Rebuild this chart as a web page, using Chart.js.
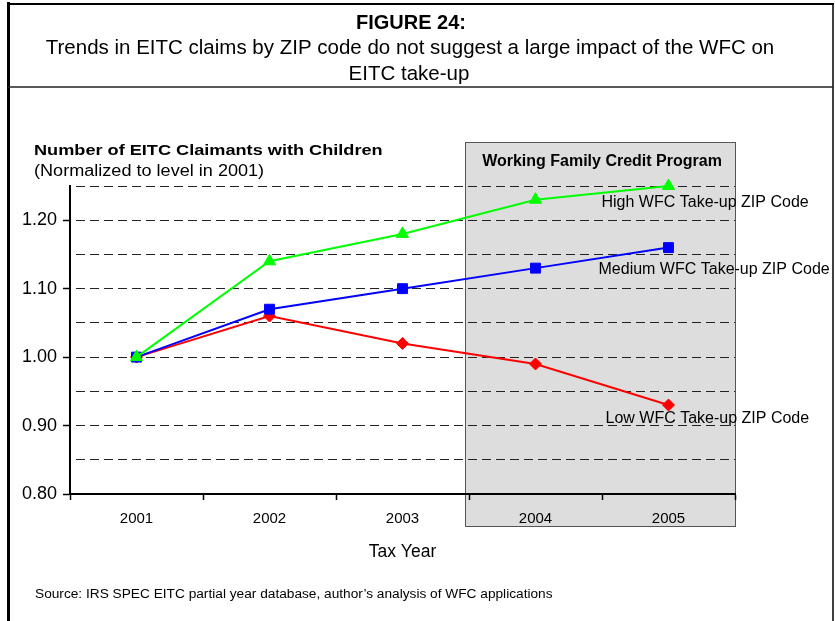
<!DOCTYPE html>
<html>
<head>
<meta charset="utf-8">
<style>
  html, body { margin: 0; padding: 0; background: #fff; }
  canvas { display: block; }
</style>
</head>
<body>
<canvas id="eitcChart" width="835" height="621"></canvas>
<script src="https://cdn.jsdelivr.net/npm/chart.js"></script>
<script>
// values (normalized to 2001 = 1.00)
const years = ['2001', '2002', '2003', '2004', '2005'];
const highTakeup = [1.00, 1.14, 1.18, 1.23, 1.25];
const mediumTakeup = [1.00, 1.07, 1.10, 1.13, 1.16];
const lowTakeup = [1.00, 1.06, 1.02, 0.99, 0.93];
const seriesNames = ['High WFC Take-up ZIP Code', 'Medium WFC Take-up ZIP Code', 'Low WFC Take-up ZIP Code'];
const yTickLabels = ['0.80', '0.90', '1.00', '1.10', '1.20'];
const programYears = ['2004', '2005'];

const FONT = '"Liberation Sans", Arial, Helvetica, sans-serif';
Chart.defaults.font.family = FONT;
Chart.defaults.color = '#000';

// where each end label sits relative to the last point of its line
const labelOffsets = [[-67, 21], [-70, 26.5], [-63, 18]];

function drawText(ctx, text, x, y, font, align, sx) {
  ctx.save();
  ctx.font = font;
  ctx.fillStyle = '#000';
  ctx.textAlign = align || 'left';
  ctx.textBaseline = 'alphabetic';
  ctx.translate(x, y);
  ctx.scale(sx || 1, 1);
  ctx.fillText(text, 0, 0);
  ctx.restore();
}

function line(ctx, x1, y1, x2, y2, w, color) {
  ctx.save();
  ctx.lineWidth = w;
  ctx.strokeStyle = color;
  ctx.beginPath();
  ctx.moveTo(x1, y1);
  ctx.lineTo(x2, y2);
  ctx.stroke();
  ctx.restore();
}

const figurePlugin = {
  id: 'figure',
  beforeDraw(chart) {
    const ctx = chart.ctx;
    const area = chart.chartArea;
    const x = chart.scales.x;
    ctx.save();
    ctx.fillStyle = '#fff';
    ctx.fillRect(0, 0, chart.width, chart.height);
    // shaded program period
    const left = Math.round(x.getPixelForValue(years.indexOf(programYears[0]) - 0.5)) - 4;
    const right = area.right;
    const top = area.top - 44;
    const bottom = area.bottom + 32;
    ctx.fillStyle = '#dddddd';
    ctx.fillRect(left, top, right - left, bottom - top);
    ctx.strokeStyle = '#555';
    ctx.lineWidth = 1;
    ctx.strokeRect(left + 0.5, top + 0.5, right - left, bottom - top);
    ctx.restore();
    drawText(ctx, 'Working Family Credit Program', (left + right) / 2 + 2, top + 24,
      'bold 16px ' + FONT, 'center');
  },
  afterDraw(chart) {
    const ctx = chart.ctx;
    const x = chart.scales.x;
    const y = chart.scales.y;

    // frame
    line(ctx, 8.5, 2, 8.5, chart.height, 3, '#000');
    line(ctx, 7, 4, 834, 4, 2, '#000');
    line(ctx, 833, 3, 833, chart.height, 1.5, '#000');
    line(ctx, 8, 87, 833, 87, 1.5, '#222');

    // headings
    drawText(ctx, 'FIGURE 24:', 411, 29, 'bold 20px ' + FONT, 'center');
    drawText(ctx, 'Trends in EITC claims by ZIP code do not suggest a large impact of the WFC on',
      410, 54, '20.5px ' + FONT, 'center');
    drawText(ctx, 'EITC take-up', 409, 80, '20.5px ' + FONT, 'center');

    drawText(ctx, 'Number of EITC Claimants with Children', 34, 155, 'bold 15.5px ' + FONT, 'left', 1.17);
    drawText(ctx, '(Normalized to level in 2001)', 34, 176, '16px ' + FONT, 'left', 1.13);

    drawText(ctx, 'Source: IRS SPEC EITC partial year database, author\u2019s analysis of WFC applications',
      35, 598, '13.7px ' + FONT, 'left');

    // end-of-line labels
    chart.data.datasets.forEach((ds, i) => {
      const last = ds.data.length - 1;
      const px = x.getPixelForValue(last);
      const py = y.getPixelForValue(ds.data[last]);
      drawText(ctx, seriesNames[i], px + labelOffsets[i][0], py + labelOffsets[i][1], '16px ' + FONT, 'left');
    });
  }
};

const isLabelled = v => yTickLabels.includes(Number(v).toFixed(2));

new Chart(document.getElementById('eitcChart'), {
  type: 'line',
  data: {
    labels: years,
    datasets: [
      {
        label: seriesNames[0],
        data: highTakeup,
        borderColor: '#00ff00',
        backgroundColor: '#00ff00',
        pointStyle: 'triangle',
        pointRadius: 7,
        pointBorderWidth: 1,
        borderWidth: 2,
        clip: false
      },
      {
        label: seriesNames[1],
        data: mediumTakeup,
        borderColor: '#0000ff',
        backgroundColor: '#0000ff',
        pointStyle: 'rect',
        pointRadius: 7,
        pointBorderWidth: 1,
        borderWidth: 2,
        clip: false
      },
      {
        label: seriesNames[2],
        data: lowTakeup,
        borderColor: '#ff0000',
        backgroundColor: '#ff0000',
        pointStyle: 'rectRot',
        pointRadius: 6,
        pointBorderWidth: 1,
        borderWidth: 2,
        clip: false
      }
    ]
  },
  options: {
    responsive: false,
    animation: false,
    devicePixelRatio: 1,
    layout: { padding: { left: 0, right: 100, top: 186, bottom: 58 } },
    plugins: {
      legend: { display: false },
      tooltip: { enabled: false }
    },
    elements: { line: { tension: 0 } },
    scales: {
      x: {
        offset: true,
        grid: {
          display: true,
          offset: true,
          drawOnChartArea: false,
          drawTicks: true,
          tickLength: 6,
          tickWidth: 1.5,
          tickColor: '#000'
        },
        border: { color: '#000', width: 2 },
        ticks: { color: '#000', font: { size: 15 }, padding: 10, maxRotation: 0 },
        title: { display: true, text: 'Tax Year', color: '#000', font: { size: 17.5 }, padding: 0 },
        afterFit(scale) { scale.height = 69; }
      },
      y: {
        min: 0.8,
        max: 1.25,
        grid: {
          color: c => (c.tick && c.tick.value > 0.81 ? '#222' : 'rgba(0,0,0,0)'),
          lineWidth: 1,
          tickLength: 7,
          tickWidth: 1.5,
          tickColor: c => (c.tick && isLabelled(c.tick.value) ? '#000' : 'rgba(0,0,0,0)')
        },
        border: { color: '#000', width: 2, dash: [9, 5], dashOffset: 9 },
        ticks: {
          stepSize: 0.05,
          autoSkip: false,
          color: '#000',
          font: { size: 18 },
          padding: 6,
          callback: v => (isLabelled(v) ? Number(v).toFixed(2) : '')
        },
        afterFit(scale) { scale.width = 70; }
      }
    }
  },
  plugins: [figurePlugin]
});
</script>
</body>
</html>
